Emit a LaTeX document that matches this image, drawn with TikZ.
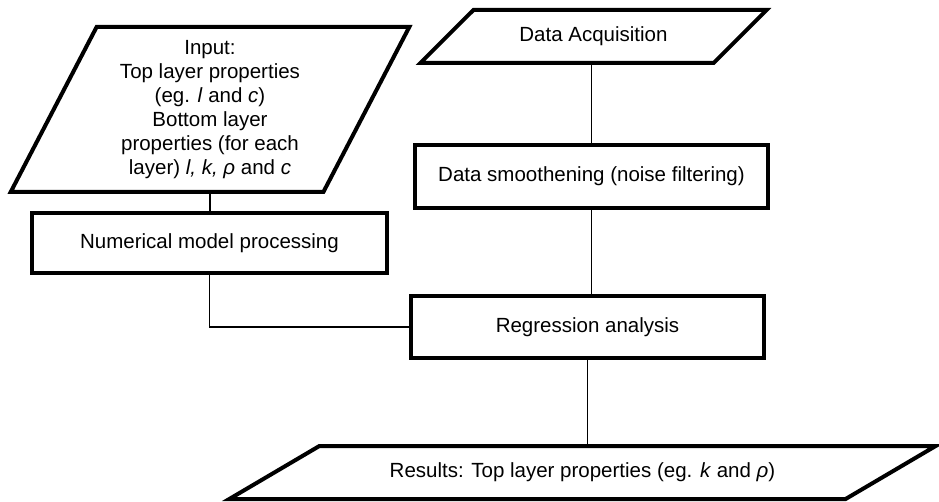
\documentclass[tikz,border=0pt]{standalone}
\usepackage{fontspec}
\setmainfont{Liberation Sans}
\usetikzlibrary{shapes.geometric}
\tikzset{
  procbox/.style={draw, line width=4pt, minimum width=353pt, minimum height=61pt, align=center},
  iobox/.style={trapezium, draw, line width=4pt, trapezium stretches=true, align=center},
  link/.style={line width=1.3pt},
}

\begin{document}
\begin{tikzpicture}[x=1pt, y=-1pt, font=\fontsize{20.5}{24}\selectfont]
  \useasboundingbox (0,0) rectangle (939,502);
  % input and output blocks
  \node[iobox, trapezium left angle=64, trapezium right angle=116,
        minimum width=400pt, minimum height=165pt] (input) at (210,109.5)
        {Input:\\Top layer properties\\(eg. \textit{l} and \textit{c})\\Bottom layer\\properties (for each\\layer) \textit{l, k, ρ} and \textit{c}};
  \node[iobox, trapezium left angle=37, trapezium right angle=143,
        minimum width=347pt, minimum height=53pt] (acq) at (593.5,36.5) {Data Acquisition};
  \node[iobox, trapezium left angle=21, trapezium right angle=159,
        minimum width=709pt, minimum height=53pt] (results) at (582.5,472.5)
        {Results: Top layer properties (eg. \textit{k} and \textit{ρ})};
  % processing steps
  \node[procbox, minimum width=355pt, minimum height=60pt] (numerical) at (209.5,243) {Numerical model processing};
  \node[procbox, minimum height=63pt] (smooth) at (591.5,176.5) {Data smoothening (noise filtering)};
  \node[procbox] (regress) at (587.5,327) {Regression analysis};
  % connections
  \draw[link] (input.south) -- (input.south |- numerical.north);
  \draw[link] (smooth.north) -- (smooth.north |- acq.south);
  \draw[link] (smooth.south) -- (smooth.south |- regress.north);
  \draw[link] (numerical.south) |- (regress.west);
  \draw[link] (regress.south) -- (regress.south |- results.north);
\end{tikzpicture}
\end{document}
